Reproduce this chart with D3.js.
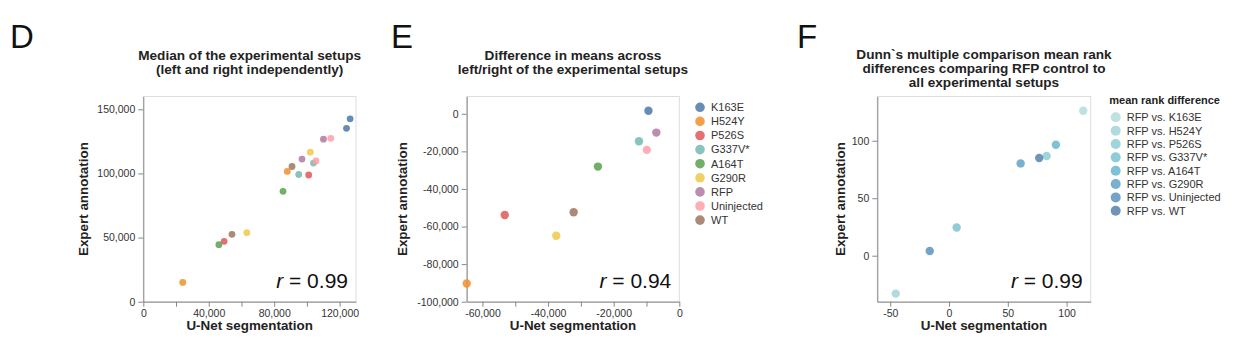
<!DOCTYPE html>
<html lang="en">
<head>
  <meta charset="UTF-8" />
  <title>U-Net vs expert annotation</title>
  <style>
    body { margin: 0; background: #fff; font-family: "Liberation Sans", Arial, sans-serif; }
    svg text { font-family: "Liberation Sans", Arial, sans-serif; }
  </style>
  <script src="https://d3js.org/d3.v7.min.js"></script>
</head>
<body>
<svg id="chart" width="1255" height="364"></svg>

<script>
// categories shared by panels D and E
const categories = ["K163E", "H524Y", "P526S", "G337V*", "A164T", "G290R", "RFP", "Uninjected", "WT"];

// D: median per setup, left and right side (two points per category)
const medianGroup  = ["K163E", "K163E", "H524Y", "H524Y", "P526S", "P526S", "G337V*", "G337V*", "A164T", "A164T",
                      "G290R", "G290R", "RFP", "RFP", "Uninjected", "Uninjected", "WT", "WT"];
const medianUnet   = [124200, 126400, 24100, 88000, 49400, 101100, 95000, 104000, 46200, 85400,
                      63300, 102100, 97000, 110100, 105600, 114600, 54200, 90900];
const medianExpert = [135200, 142600, 15000, 101600, 47100, 98800, 99200, 108100, 44500, 86100,
                      53800, 116600, 111200, 126700, 109800, 127400, 52500, 105400];

// E: difference in means left/right
const diffUnet   = [-9400, -64800, -53200, -12300, -24800, -37500, -7000, -9900, -32200];
const diffExpert = [1600, -90300, -53900, -14600, -28100, -64900, -10000, -19200, -52400];

// F: Dunn's mean rank differences
const dunnLabels = ["RFP vs. K163E", "RFP vs. H524Y", "RFP vs. P526S", "RFP vs. G337V*",
                    "RFP vs. A164T", "RFP vs. G290R", "RFP vs. Uninjected", "RFP vs. WT"];
const dunnUnet   = [114.1, -45.3, 83.0, 6.5, 90.9, 60.9, -16.4, 76.7];
const dunnExpert = [126.1, -33.0, 86.7, 24.6, 96.5, 80.3, 4.1, 85.0];
const dunnColors = ["#b3dddc", "#a1d5d8", "#8ecdd4", "#7cc3d1", "#68b6cf", "#60a3c5", "#5d93bb", "#5881a9"];

const catColor = d3.scaleOrdinal(categories, d3.schemeTableau10);
const dunnColor = d3.scaleOrdinal(dunnLabels, dunnColors);

const svg = d3.select("#chart");
const plotTop = 96.5, plotBottom = 301.7;

function panel(opt) {
  const g = svg.append("g");
  const x = d3.scaleLinear().domain(opt.xDomain).range([opt.left, opt.right]);
  const y = d3.scaleLinear().domain(opt.yDomain).range([plotBottom, plotTop]);

  // letter
  g.append("text").attr("x", opt.letterX).attr("y", 48)
    .attr("font-size", 33).attr("fill", "#111").text(opt.letter);

  // title
  opt.title.forEach((t, i) => {
    g.append("text").attr("x", (opt.left + opt.right) / 2).attr("y", opt.titleY + i * 14)
      .attr("text-anchor", "middle").attr("font-size", 13.6).attr("font-weight", "bold")
      .attr("fill", "#222").text(t);
  });

  // frame
  g.append("rect").attr("x", opt.left).attr("y", plotTop)
    .attr("width", opt.right - opt.left).attr("height", plotBottom - plotTop)
    .attr("fill", "none").attr("stroke", "#ddd");

  const xAxis = g.append("g").attr("transform", `translate(0,${plotBottom})`)
    .call(d3.axisBottom(x).tickValues(opt.xTicks).tickSize(5).tickSizeOuter(0).tickPadding(3)
      .tickFormat(d => opt.xLabels.includes(d) ? d3.format(",")(d).replace("−", "-") : ""));
  const yAxis = g.append("g").attr("transform", `translate(${opt.left},0)`)
    .call(d3.axisLeft(y).tickValues(opt.yTicks).tickSize(5).tickSizeOuter(0).tickPadding(3)
      .tickFormat(d => d3.format(",")(d).replace("−", "-")));
  [xAxis, yAxis].forEach(a => {
    a.select(".domain").attr("stroke", "#888");
    a.selectAll(".tick line").attr("stroke", "#888");
    a.selectAll(".tick text").attr("fill", "#333").attr("font-size", 10.5)
      .style("font-family", "'Liberation Sans', Arial, sans-serif");
  });

  // axis titles
  g.append("text").attr("x", (opt.left + opt.right) / 2).attr("y", 330)
    .attr("text-anchor", "middle").attr("font-size", 13.4).attr("font-weight", "bold")
    .attr("fill", "#222").text("U-Net segmentation");
  g.append("text")
    .attr("transform", `translate(${opt.left - opt.yTitleOff},${(plotTop + plotBottom) / 2}) rotate(-90)`)
    .attr("text-anchor", "middle").attr("font-size", 13.4).attr("font-weight", "bold")
    .attr("fill", "#222").text("Expert annotation");

  // points
  g.append("g").selectAll("circle").data(opt.points).join("circle")
    .attr("cx", d => x(d.x)).attr("cy", d => y(d.y)).attr("r", opt.r)
    .attr("fill", d => d.c).attr("opacity", 0.85);

  // r value
  const rt = g.append("text").attr("x", opt.right - 8).attr("y", 288)
    .attr("text-anchor", "end").attr("font-size", 21).attr("fill", "#111");
  rt.append("tspan").attr("font-style", "italic").text("r");
  rt.append("tspan").text(" = " + opt.rValue);
  return g;
}

panel({
  letter: "D", letterX: 10, left: 143.3, right: 356,
  title: ["Median of the experimental setups", "(left and right independently)"], titleY: 60,
  xDomain: [0, 130000], yDomain: [0, 160000],
  xTicks: d3.range(0, 130001, 20000), xLabels: [0, 40000, 80000, 120000],
  yTicks: [0, 50000, 100000, 150000], yTitleOff: 55, r: 3.4, rValue: "0.99",
  points: medianUnet.map((v, i) => ({ x: v, y: medianExpert[i], c: catColor(medianGroup[i]) }))
});

panel({
  letter: "E", letterX: 391, left: 466.7, right: 679.3,
  title: ["Difference in means across", "left/right of the experimental setups"], titleY: 60,
  xDomain: [-64800, 0], yDomain: [-100000, 9200],
  xTicks: d3.range(-60000, 1, 10000), xLabels: [-60000, -40000, -20000, 0],
  yTicks: d3.range(-100000, 1, 20000), yTitleOff: 60, r: 4.2, rValue: "0.94",
  points: diffUnet.map((v, i) => ({ x: v, y: diffExpert[i], c: catColor(categories[i]) }))
});

panel({
  letter: "F", letterX: 797, left: 877.3, right: 1090.7,
  title: ["Dunn`s multiple comparison mean rank", "differences comparing RFP control to", "all experimental setups"], titleY: 59,
  xDomain: [-61, 120.5], yDomain: [-40, 138.5],
  xTicks: [-50, 0, 50, 100], xLabels: [-50, 0, 50, 100],
  yTicks: [0, 50, 100], yTitleOff: 32, r: 4.2, rValue: "0.99",
  points: dunnUnet.map((v, i) => ({ x: v, y: dunnExpert[i], c: dunnColor(dunnLabels[i]) }))
});

// legend E
const legE = svg.append("g");
categories.forEach((c, i) => {
  const cy = 107.3 + i * 14.1;
  legE.append("circle").attr("cx", 700).attr("cy", cy).attr("r", 4.8)
    .attr("fill", catColor(c)).attr("opacity", 0.85);
  legE.append("text").attr("x", 711).attr("y", cy).attr("dy", "0.35em")
    .attr("font-size", 11).attr("fill", "#333").text(c);
});

// legend F
const legF = svg.append("g");
legF.append("text").attr("x", 1109.3).attr("y", 104).attr("font-size", 11)
  .attr("font-weight", "bold").attr("fill", "#222").text("mean rank difference");
dunnLabels.forEach((c, i) => {
  const cy = 117.3 + i * 13.35;
  legF.append("circle").attr("cx", 1115.7).attr("cy", cy).attr("r", 5)
    .attr("fill", dunnColor(c)).attr("opacity", 0.85);
  legF.append("text").attr("x", 1126.7).attr("y", cy).attr("dy", "0.35em")
    .attr("font-size", 11).attr("fill", "#333").text(c);
});
</script>
</body>
</html>
